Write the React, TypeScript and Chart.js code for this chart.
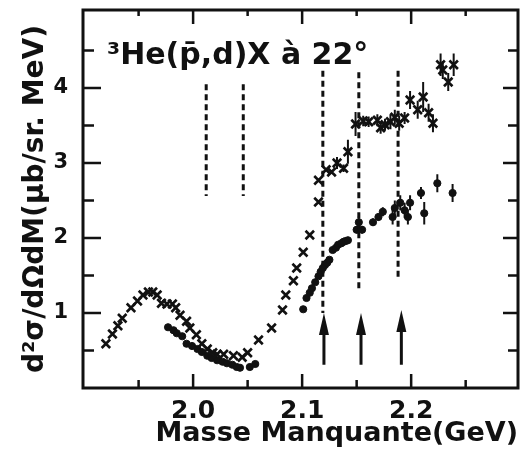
import React, { useEffect, useRef } from "react";
import { Chart, registerables } from "chart.js";

Chart.register(...registerables);

// ---- data ----
const crossX = [
  1.920, 1.926, 1.931, 1.935, 1.943, 1.949, 1.954, 1.959, 1.963, 1.967,
  1.971, 1.976, 1.981, 1.984, 1.988, 1.994, 1.997, 2.003, 2.008, 2.013,
  2.018, 2.022, 2.028, 2.037, 2.045, 2.050, 2.060, 2.072, 2.082, 2.085,
  2.092, 2.095, 2.101, 2.107, 2.115, 2.115, 2.122, 2.127, 2.132, 2.138,
  2.142, 2.149, 2.156, 2.161, 2.169, 2.172, 2.176, 2.181, 2.185, 2.189,
  2.194, 2.199, 2.206, 2.211, 2.216, 2.220, 2.227, 2.229, 2.234, 2.239,
];
const crossY = [
  0.59, 0.72, 0.83, 0.93, 1.07, 1.16, 1.24, 1.28, 1.28, 1.24,
  1.13, 1.12, 1.12, 1.07, 0.97, 0.89, 0.80, 0.71, 0.59, 0.52,
  0.47, 0.45, 0.45, 0.43, 0.41, 0.47, 0.64, 0.80, 1.04, 1.24,
  1.43, 1.60, 1.81, 2.04, 2.48, 2.77, 2.91, 2.88, 3.00, 2.93,
  3.15, 3.52, 3.56, 3.55, 3.57, 3.47, 3.51, 3.55, 3.61, 3.53,
  3.60, 3.84, 3.71, 3.88, 3.67, 3.53, 4.31, 4.24, 4.08, 4.31,
];
const crossErr = [
  0, 0, 0, 0, 0, 0, 0, 0, 0, 0,
  0, 0, 0, 0, 0, 0, 0, 0, 0, 0,
  0, 0, 0, 0, 0, 0, 0, 0, 0, 0,
  0, 0, 0, 0, 0, 0, 0, 0, 0.08, 0.05,
  0.16, 0.16, 0.07, 0.07, 0.08, 0.08, 0.08, 0.1, 0.1, 0.1,
  0.08, 0.12, 0.12, 0.2, 0.12, 0.12, 0.15, 0.12, 0.12, 0.15,
];

const circleX = [
  1.977, 1.982, 1.985, 1.990, 1.994, 1.999, 2.004, 2.008, 2.013, 2.017,
  2.022, 2.027, 2.031, 2.036, 2.040, 2.043, 2.052, 2.057,
  2.101, 2.104, 2.107, 2.109, 2.112, 2.115, 2.117, 2.119, 2.121, 2.123,
  2.125, 2.128, 2.131, 2.133, 2.136, 2.138, 2.140, 2.142,
  2.150, 2.152, 2.155, 2.165, 2.170, 2.174, 2.183, 2.185, 2.190, 2.194,
  2.197, 2.199, 2.209, 2.212, 2.224, 2.238,
];
const circleY = [
  0.81, 0.77, 0.73, 0.69, 0.59, 0.56, 0.52, 0.48, 0.43, 0.40,
  0.37, 0.35, 0.33, 0.31, 0.28, 0.27, 0.28, 0.32,
  1.05, 1.20, 1.27, 1.33, 1.41, 1.49, 1.55, 1.60, 1.64, 1.67,
  1.71, 1.84, 1.87, 1.91, 1.93, 1.95, 1.96, 1.97,
  2.11, 2.21, 2.11, 2.21, 2.28, 2.35, 2.28, 2.40, 2.47, 2.37,
  2.28, 2.47, 2.60, 2.33, 2.73, 2.60,
];
const circleErr = [
  0, 0, 0, 0, 0, 0, 0, 0, 0, 0,
  0, 0, 0, 0, 0, 0, 0, 0,
  0, 0, 0, 0, 0, 0, 0, 0, 0, 0,
  0, 0, 0, 0, 0, 0, 0, 0,
  0.05, 0.08, 0.05, 0.05, 0.05, 0.06, 0.1, 0.1, 0.1, 0.1,
  0.1, 0.1, 0.08, 0.15, 0.12, 0.12,
];

// dashed threshold lines
const dashX = [2.012, 2.046, 2.119, 2.152, 2.188];
const dashTop = [4.05, 4.05, 4.23, 4.21, 4.23];
const dashBottom = [2.56, 2.56, 1.0, 1.28, 1.47];

// arrows
const arrowX = [2.120, 2.154, 2.191];
const arrowBase = [0.31, 0.31, 0.31];
const arrowTip = [1.0, 1.0, 1.04];

// ticks
const xMajor = [2.0, 2.1, 2.2];
const xMinor = [1.95, 2.05, 2.15, 2.25];
const yMajor = [1, 2, 3, 4];
const yMinor = [0.5, 1.5, 2.5, 3.5, 4.5];

const annotationText = "\u00B3He(p\u0304,d)X \u00E0 22\u00B0";
const xTitle = "Masse Manquante(GeV)";
const yTitle = "d\u00B2\u03C3/d\u03A9dM(\u03BCb/sr. MeV)";

const INK = "#111";
const FONT = "'DejaVu Sans', sans-serif";

const framePlugin = {
  id: "framePlugin",
  afterDatasetsDraw(chart: any) {
    const { ctx, chartArea: a, scales } = chart;
    const xs = scales.x;
    const ys = scales.y;
    ctx.save();
    ctx.strokeStyle = INK;
    ctx.fillStyle = INK;
    ctx.lineCap = "butt";

    // error bars
    ctx.lineWidth = 2;
    const bars = (X: number[], Y: number[], E: number[]) => {
      X.forEach((x, i) => {
        if (!E[i]) return;
        const px = xs.getPixelForValue(x);
        ctx.beginPath();
        ctx.moveTo(px, ys.getPixelForValue(Y[i] - E[i]));
        ctx.lineTo(px, ys.getPixelForValue(Y[i] + E[i]));
        ctx.stroke();
      });
    };
    bars(crossX, crossY, crossErr);
    bars(circleX, circleY, circleErr);

    // arrows
    arrowX.forEach((x, i) => {
      const px = xs.getPixelForValue(x);
      const pb = ys.getPixelForValue(arrowBase[i]);
      const pt = ys.getPixelForValue(arrowTip[i]);
      ctx.lineWidth = 3;
      ctx.beginPath();
      ctx.moveTo(px, pb);
      ctx.lineTo(px, pt + 18);
      ctx.stroke();
      ctx.beginPath();
      ctx.moveTo(px, pt);
      ctx.lineTo(px - 5, pt + 22);
      ctx.lineTo(px + 5, pt + 22);
      ctx.closePath();
      ctx.fill();
    });

    // frame
    ctx.lineWidth = 3;
    ctx.strokeRect(a.left, a.top, a.right - a.left, a.bottom - a.top);

    // inward ticks
    ctx.lineWidth = 2.5;
    const hTicks = (vals: number[], lenB: number, lenT: number) => {
      vals.forEach((v) => {
        const px = xs.getPixelForValue(v);
        ctx.beginPath();
        ctx.moveTo(px, a.bottom);
        ctx.lineTo(px, a.bottom - lenB);
        ctx.moveTo(px, a.top);
        ctx.lineTo(px, a.top + lenT);
        ctx.stroke();
      });
    };
    hTicks(xMajor, 14, 14);
    hTicks(xMinor, 8, 6);
    const vTicks = (vals: number[], lenL: number, lenR: number) => {
      vals.forEach((v) => {
        const py = ys.getPixelForValue(v);
        ctx.beginPath();
        ctx.moveTo(a.left, py);
        ctx.lineTo(a.left + lenL, py);
        ctx.moveTo(a.right, py);
        ctx.lineTo(a.right - lenR, py);
        ctx.stroke();
      });
    };
    vTicks(yMajor, 18, 15);
    vTicks(yMinor, 11, 10);

    // annotation text
    ctx.font = `bold 30px ${FONT}`;
    ctx.textAlign = "left";
    ctx.textBaseline = "alphabetic";
    ctx.fillText(annotationText, a.left + 24, a.top + 54);
    ctx.restore();
  },
};

export default function App() {
  const ref = useRef<HTMLCanvasElement | null>(null);

  useEffect(() => {
    if (!ref.current) return;
    const crossData = crossX.map((x, i) => ({ x, y: crossY[i] }));
    const circleData = circleX.map((x, i) => ({ x, y: circleY[i] }));
    const dashSets = dashX.map((x, i) => ({
      label: "seuil" + i,
      data: [
        { x, y: dashTop[i] },
        { x, y: dashBottom[i] },
      ],
      showLine: true,
      borderColor: INK,
      borderWidth: 3,
      borderDash: [6, 4],
      pointRadius: 0,
      fill: false,
    }));

    const chart = new Chart(ref.current, {
      type: "scatter",
      data: {
        datasets: [
          {
            label: "crosses",
            data: crossData,
            pointStyle: "crossRot",
            pointRadius: 6,
            borderColor: INK,
            backgroundColor: INK,
            borderWidth: 2.6,
          } as any,
          {
            label: "circles",
            data: circleData,
            pointStyle: "circle",
            pointRadius: 3.6,
            borderColor: INK,
            backgroundColor: INK,
            borderWidth: 1,
          } as any,
          ...(dashSets as any[]),
        ],
      },
      options: {
        responsive: false,
        animation: false,
        layout: { padding: { top: 10, right: 10, left: 0, bottom: 0 } },
        plugins: {
          legend: { display: false },
          tooltip: { enabled: false },
        },
        scales: {
          x: {
            type: "linear",
            min: 1.899,
            max: 2.298,
            afterBuildTicks: (s: any) => {
              s.ticks = xMajor.map((v) => ({ value: v }));
            },
            afterFit: (s: any) => {
              s.height = 77;
              s.paddingLeft = 0;
              s.paddingRight = 0;
            },
            grid: { display: false, drawTicks: false },
            border: { display: false },
            ticks: {
              color: INK,
              padding: 8,
              font: { family: FONT, size: 25, weight: "bold" },
              callback: (v: any) => Number(v).toFixed(1),
              maxRotation: 0,
            },
            title: {
              display: true,
              text: xTitle,
              align: "end",
              color: INK,
              font: { family: FONT, size: 27, weight: "bold" },
              padding: { top: 0, bottom: 15 },
            },
          },
          y: {
            type: "linear",
            min: 0,
            max: 5.04,
            afterBuildTicks: (s: any) => {
              s.ticks = yMajor.map((v) => ({ value: v }));
            },
            afterFit: (s: any) => {
              s.width = 83;
              s.paddingTop = 0;
              s.paddingBottom = 0;
            },
            grid: { display: false, drawTicks: false },
            border: { display: false },
            ticks: {
              color: INK,
              padding: 15,
              font: { family: FONT, size: 21, weight: "bold" },
              callback: (v: any) => String(v),
            },
            title: {
              display: true,
              text: yTitle,
              color: INK,
              font: { family: FONT, size: 28, weight: "bold" },
              padding: { top: 19, bottom: 0 },
            },
          },
        },
      } as any,
      plugins: [framePlugin],
    });
    return () => chart.destroy();
  }, []);

  return (
    <div style={{ position: "fixed", left: 0, top: 0, width: 528, height: 465, background: "#fff" }}>
      <canvas ref={ref} width={528} height={465} style={{ display: "block" }} />
    </div>
  );
}
